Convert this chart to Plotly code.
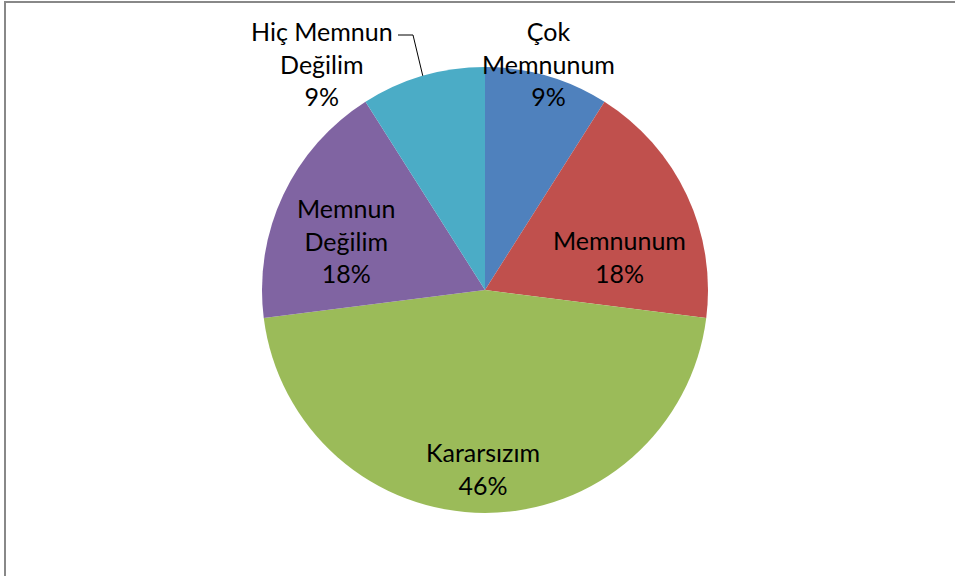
import math
import plotly.graph_objects as go

# slice data
categories = ["Çok<br>Memnunum", "Memnunum", "Kararsızım", "Memnun<br>Değilim", "Hiç Memnun<br>Değilim"]
percents = [9, 18, 46, 18, 9]
colors = ["#4F81BD", "#C0504D", "#9BBB59", "#8064A2", "#4BACC6"]

W, H = 955, 576
CX, CY, R = 485, 290, 223  # pie centre / radius in screen pixels

# label centres in screen pixels (Excel "best fit" placement)
label_pos = [(548, 63), (619, 256), (483, 468), (346, 240), (322, 63)]


def px(x):
    return x / W


def py(y):
    return 1 - y / H


fig = go.Figure(
    go.Pie(
        labels=categories,
        values=percents,
        sort=False,
        direction="clockwise",
        rotation=0,
        marker={"colors": colors, "line": {"width": 0}},
        textinfo="none",
        hoverinfo="label+percent",
        showlegend=False,
        domain={"x": [px(CX - R), px(CX + R)], "y": [py(CY + R), py(CY - R)]},
    )
)

for name, pct, (lx, ly) in zip(categories, percents, label_pos):
    fig.add_annotation(
        x=px(lx), y=py(ly), xref="paper", yref="paper",
        text=f"{name}<br>{pct}%", showarrow=False,
        xanchor="center", yanchor="middle", align="center",
        font={"family": "Lato, Carlito, Calibri, sans-serif", "size": 25, "color": "#000000"},
    )

# leader line for the outside label (last slice), ends on the slice edge at its mid angle
total = sum(percents)
mid = (sum(percents[:-1]) + percents[-1] / 2) / total * 2 * math.pi
ex, ey = CX + R * math.sin(mid), CY - R * math.cos(mid)
fig.add_shape(
    type="path", xref="paper", yref="paper",
    path=f"M {px(398)},{py(35)} L {px(413)},{py(35)} L {px(ex)},{py(ey)}",
    line={"color": "#000000", "width": 1},
)

# chart area border (cropped at right / bottom)
fig.add_shape(
    type="rect", xref="paper", yref="paper",
    x0=px(5), y0=-0.1, x1=1.1, y1=py(2),
    line={"color": "#888888", "width": 2}, fillcolor="rgba(0,0,0,0)",
)

fig.update_layout(
    width=W, height=H,
    margin={"l": 0, "r": 0, "t": 0, "b": 0},
    paper_bgcolor="white", plot_bgcolor="white",
)

# drop the page's default body margin so the figure sits at the window corner
fig.write_html(
    "out.html",
    config={"displayModeBar": False},
    post_script="document.body.style.margin = '0';",
)
